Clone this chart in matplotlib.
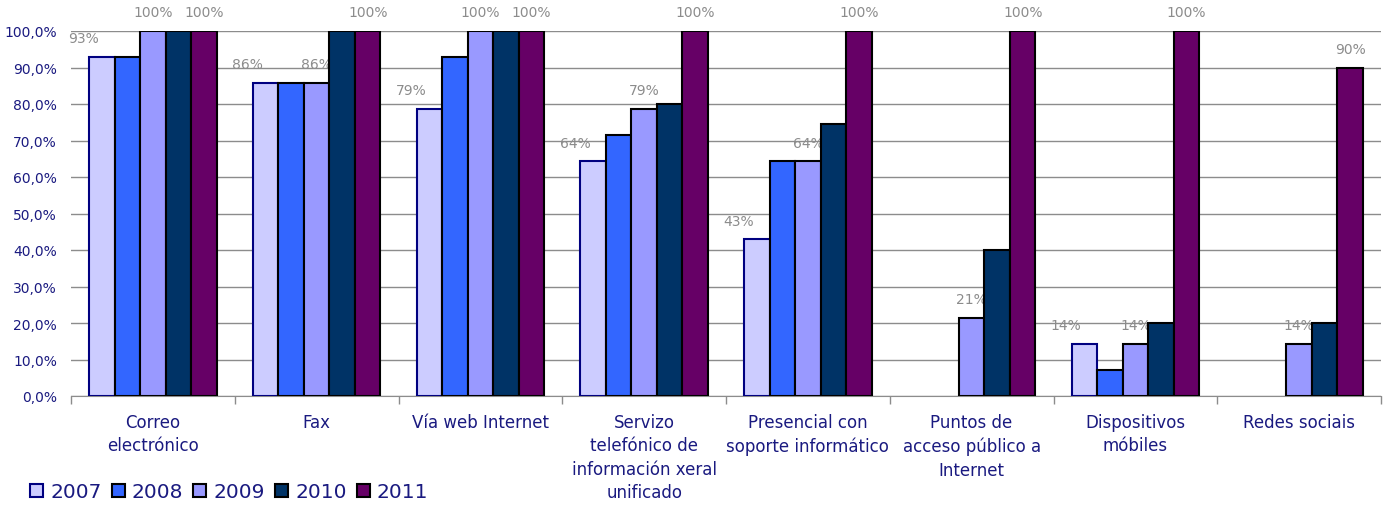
# columnas agrupadas: canles de atención por ano
import matplotlib.pyplot as plt
import numpy as np

categorias = ['Correo\nelectrónico', 'Fax', 'Vía web Internet',
              'Servizo\ntelefónico de\ninformación xeral\nunificado',
              'Presencial con\nsoporte informático',
              'Puntos de\nacceso público a\nInternet',
              'Dispositivos\nmóbiles', 'Redes sociais']
anos = ['2007', '2008', '2009', '2010', '2011']

# None = sen dato
v2007 = [92.9, 85.7, 78.6, 64.3, 42.9, None, 14.3, None]
v2008 = [92.9, 85.7, 92.9, 71.4, 64.3, None, 7.1, None]
v2009 = [100, 85.7, 100, 78.6, 64.3, 21.4, 14.3, 14.3]
v2010 = [100, 100, 100, 80, 74.5, 40, 20, 20]
v2011 = [100, 100, 100, 100, 100, 100, 100, 90]
series = [v2007, v2008, v2009, v2010, v2011]

cores = ['#CCCCFF', '#3366FF', '#9999FF', '#003366', '#660066']
bordes = ['#000080', 'black', 'black', 'black', 'black']
navy = '#1A1A80'

fg = plt.figure(figsize=(13.88, 5.06), dpi=100)
ax = fg.add_axes([71 / 1388, 1 - 397 / 506, 1310 / 1388, 365 / 506])

x = np.arange(len(categorias))
w = 0.156
for j, (vals, ano) in enumerate(zip(series, anos)):
    vals = np.array([np.nan if v is None else v for v in vals], dtype=float)
    pos = x + (j - 2) * w
    ok = ~np.isnan(vals)
    ax.bar(pos[ok], vals[ok], w, color=cores[j], edgecolor=bordes[j], linewidth=1.5,
           label=ano, zorder=3)
    # etiquetas só para 2007, 2009 e 2011
    if j in (0, 2, 4):
        dx = -0.11 if j == 0 else 0
        for p, v in zip(pos[ok], vals[ok]):
            ax.annotate(f'{v:.0f}%', (p + dx, v), xytext=(0, 13.5),
                        textcoords='offset points', ha='center', va='center',
                        color='#8C8C8C', fontsize=10, annotation_clip=False)

ax.set_xlim(-0.5, len(categorias) - 0.5)
ax.set_ylim(0, 100)
ax.set_yticks(np.arange(0, 101, 10))
ax.set_yticklabels([f'{t:.1f}%'.replace('.', ',') for t in np.arange(0, 101, 10)],
                   color=navy, fontsize=10)
ax.tick_params(axis='y', length=0, pad=10)
ax.grid(axis='y', color='#8C8C8C', linewidth=1, zorder=0)

ax.set_xticks(x)
ax.set_xticklabels(categorias, color=navy, fontsize=12, linespacing=1.4, va='top')
ax.set_xticks(np.arange(-0.5, len(categorias)), minor=True)
ax.tick_params(axis='x', which='major', length=0, pad=12)
ax.tick_params(axis='x', which='minor', length=6, color='#8C8C8C', width=1)

for s in ['top', 'right', 'left']:
    ax.spines[s].set_visible(False)
ax.spines['bottom'].set_color('#8C8C8C')

fg.legend(loc='center left', bbox_to_anchor=(30 / 1388, 1 - 493 / 506), ncol=5,
          frameon=False, fontsize=14.5, handlelength=0.65, handleheight=0.65,
          handletextpad=0.35, columnspacing=0.5, labelcolor=navy, borderpad=0,
          borderaxespad=0)

plt.savefig('out.png', dpi=100)
